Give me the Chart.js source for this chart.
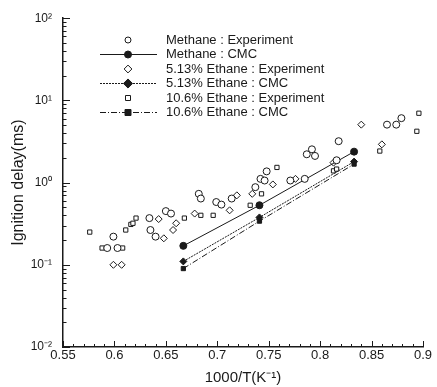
<!DOCTYPE html>
<html>
<head>
<meta charset="utf-8">
<script src="https://cdn.jsdelivr.net/npm/chart.js@4"></script>
<style>
html, body { margin: 0; padding: 0; background: #fff; }
canvas { display: block; }
</style>
</head>
<body>
<canvas id="chart" width="437" height="387"></canvas>
<script>
// Ignition delay vs 1000/T

const xMajor = [0.55, 0.6, 0.65, 0.7, 0.75, 0.8, 0.85, 0.9];
const yMajor = [0.01, 0.1, 1, 10, 100];
const yMajorLabels = ['10⁻²', '10⁻¹', '10⁰', '10¹', '10²'];

const methaneExpX = [0.593, 0.599, 0.603, 0.634, 0.635, 0.640, 0.650, 0.655, 0.682, 0.684, 0.699, 0.704, 0.714, 0.737, 0.742, 0.746, 0.748, 0.771, 0.785, 0.787, 0.792, 0.795, 0.816, 0.818, 0.865, 0.874, 0.879];
const methaneExpY = [0.16, 0.22, 0.16, 0.37, 0.265, 0.22, 0.45, 0.42, 0.73, 0.64, 0.58, 0.54, 0.64, 0.88, 1.11, 1.06, 1.37, 1.06, 1.11, 2.21, 2.54, 2.11, 1.87, 3.19, 5.07, 5.07, 6.08];

const eth513ExpX = [0.599, 0.607, 0.643, 0.648, 0.657, 0.660, 0.678, 0.712, 0.719, 0.734, 0.754, 0.776, 0.813, 0.840, 0.860];
const eth513ExpY = [0.10, 0.10, 0.36, 0.21, 0.265, 0.32, 0.42, 0.46, 0.70, 0.73, 0.95, 1.11, 1.75, 5.07, 2.92];

const eth106ExpX = [0.576, 0.588, 0.608, 0.611, 0.616, 0.618, 0.621, 0.668, 0.684, 0.696, 0.732, 0.743, 0.758, 0.813, 0.816, 0.858, 0.894, 0.896];
const eth106ExpY = [0.25, 0.16, 0.16, 0.265, 0.31, 0.32, 0.37, 0.37, 0.40, 0.40, 0.53, 0.73, 1.53, 1.39, 1.46, 2.42, 4.21, 6.98];

const cmcX = [0.667, 0.741, 0.833];
const methaneCmcY = [0.17, 0.53, 2.38];
const eth513CmcY = [0.11, 0.377, 1.80];
const eth106CmcY = [0.09, 0.34, 1.68];

const ink = '#1a1a1a';

function pts(xs, ys) {
    return xs.map((x, i) => ({ x, y: ys[i] }));
}

function expSet(label, xs, ys, style, r) {
    return {
        label, data: pts(xs, ys), showLine: false,
        pointStyle: style, pointRadius: r, pointHoverRadius: r,
        pointBorderWidth: 1, pointBorderColor: ink, pointBackgroundColor: '#fff'
    };
}

function cmcSet(label, ys, style, r, dash) {
    return {
        label, data: pts(cmcX, ys), showLine: true,
        borderColor: ink, borderWidth: 1, borderDash: dash,
        pointStyle: style, pointRadius: r, pointHoverRadius: r,
        pointBorderWidth: 1, pointBorderColor: ink, pointBackgroundColor: ink
    };
}

const datasets = [
    expSet('Methane : Experiment', methaneExpX, methaneExpY, 'circle', 3.5),
    cmcSet('Methane : CMC', methaneCmcY, 'circle', 3.5, []),
    expSet('5.13% Ethane : Experiment', eth513ExpX, eth513ExpY, 'rectRot', 3.5),
    cmcSet('5.13% Ethane : CMC', eth513CmcY, 'rectRot', 3.5, [2, 1]),
    expSet('10.6% Ethane : Experiment', eth106ExpX, eth106ExpY, 'rect', 3),
    cmcSet('10.6% Ethane : CMC', eth106CmcY, 'rect', 3, [6, 2, 1, 2])
];

/* ---------- helpers ---------- */

const isMajorX = v => xMajor.some(m => Math.abs(m - v) < 1e-6);
const majorYIndex = v => yMajor.findIndex(m => Math.abs(Math.log10(m) - Math.log10(v)) < 1e-6);

function drawMarker(ctx, style, r, x, y) {
    ctx.beginPath();
    if (style === 'circle') {
        ctx.arc(x, y, r, 0, Math.PI * 2);
    } else if (style === 'rectRot') {
        const d = r * 1.3;
        ctx.moveTo(x, y - d); ctx.lineTo(x + d, y); ctx.lineTo(x, y + d); ctx.lineTo(x - d, y);
        ctx.closePath();
    } else {
        ctx.rect(x - r, y - r, r * 2, r * 2);
    }
    ctx.fill();
    ctx.stroke();
}

/* ---------- plugins ---------- */

const inwardTicks = {
    id: 'inwardTicks',
    afterDraw(chart) {
        const { ctx, chartArea: a, scales: { x, y } } = chart;
        ctx.save();
        ctx.strokeStyle = ink;
        ctx.lineWidth = 1;
        ctx.beginPath();
        x.ticks.forEach(t => {
            const px = Math.round(x.getPixelForValue(t.value)) + 0.5;
            const len = isMajorX(t.value) ? 6 : 3;
            ctx.moveTo(px, a.bottom); ctx.lineTo(px, a.bottom - len);
        });
        y.ticks.forEach(t => {
            const py = Math.round(y.getPixelForValue(t.value)) + 0.5;
            const len = majorYIndex(t.value) >= 0 ? 7 : 3.5;
            ctx.moveTo(a.left, py); ctx.lineTo(a.left + len, py);
        });
        ctx.stroke();
        ctx.restore();
    }
};

const legendRows = {
    id: 'legendRows',
    afterDraw(chart) {
        const ctx = chart.ctx;
        ctx.save();
        ctx.font = "13px 'Liberation Sans', Arial, sans-serif";
        ctx.textBaseline = 'middle';
        chart.data.datasets.forEach((ds, i) => {
            const yy = 40 + i * 14.5;
            ctx.strokeStyle = ink;
            ctx.lineWidth = 1;
            if (ds.showLine) {
                ctx.setLineDash(ds.borderDash);
                ctx.beginPath();
                ctx.moveTo(100, yy); ctx.lineTo(157, yy);
                ctx.stroke();
                ctx.setLineDash([]);
            }
            ctx.fillStyle = ds.pointBackgroundColor;
            drawMarker(ctx, ds.pointStyle, ds.showLine ? ds.pointRadius : ds.pointRadius - 0.5, 128, yy);
            ctx.fillStyle = ink;
            ctx.fillText(ds.label, 166, yy);
        });
        ctx.restore();
    }
};

/* ---------- chart ---------- */

Chart.defaults.font.family = "'Liberation Sans', Arial, sans-serif";
Chart.defaults.color = ink;

new Chart(document.getElementById('chart'), {
    type: 'scatter',
    data: { datasets },
    options: {
        responsive: false,
        animation: false,
        layout: { padding: { left: 0, right: 14, top: 14, bottom: 0 } },
        plugins: { legend: { display: false }, tooltip: { enabled: false } },
        scales: {
            x: {
                type: 'linear', min: 0.55, max: 0.9,
                afterFit: s => { s.height = 40; },
                afterBuildTicks: s => {
                    const t = [];
                    for (let i = 0; i <= 35; i++) t.push({ value: +(0.55 + i * 0.01).toFixed(2) });
                    s.ticks = t;
                },
                grid: { display: false, drawTicks: false },
                border: { display: true, color: ink, width: 1.5 },
                ticks: {
                    autoSkip: false, maxRotation: 0, padding: 1,
                    font: { size: 13 },
                    callback: v => isMajorX(v) ? String(+v.toFixed(2)) : ''
                },
                title: {
                    display: true, text: '1000/T(K⁻¹)',
                    font: { size: 15 }, padding: { top: 0, bottom: 0 }
                }
            },
            y: {
                type: 'logarithmic', min: 0.01, max: 100,
                afterFit: s => { s.width = 63; },
                afterBuildTicks: s => {
                    const t = [];
                    yMajor.forEach((m, i) => {
                        if (i === yMajor.length - 1) { t.push({ value: m }); return; }
                        for (let k = 1; k <= 9; k++) t.push({ value: m * k });
                    });
                    s.ticks = t;
                },
                grid: { display: false, drawTicks: false },
                border: { display: true, color: ink, width: 1.5 },
                ticks: {
                    autoSkip: false, padding: 11,
                    font: { size: 12 },
                    callback: v => {
                        const i = majorYIndex(v);
                        return i >= 0 ? yMajorLabels[i] : '';
                    }
                },
                title: {
                    display: true, text: 'Ignition delay(ms)',
                    font: { size: 16 }, padding: { top: 9, bottom: 0 }
                }
            }
        }
    },
    plugins: [inwardTicks, legendRows]
});
</script>
</body>
</html>
